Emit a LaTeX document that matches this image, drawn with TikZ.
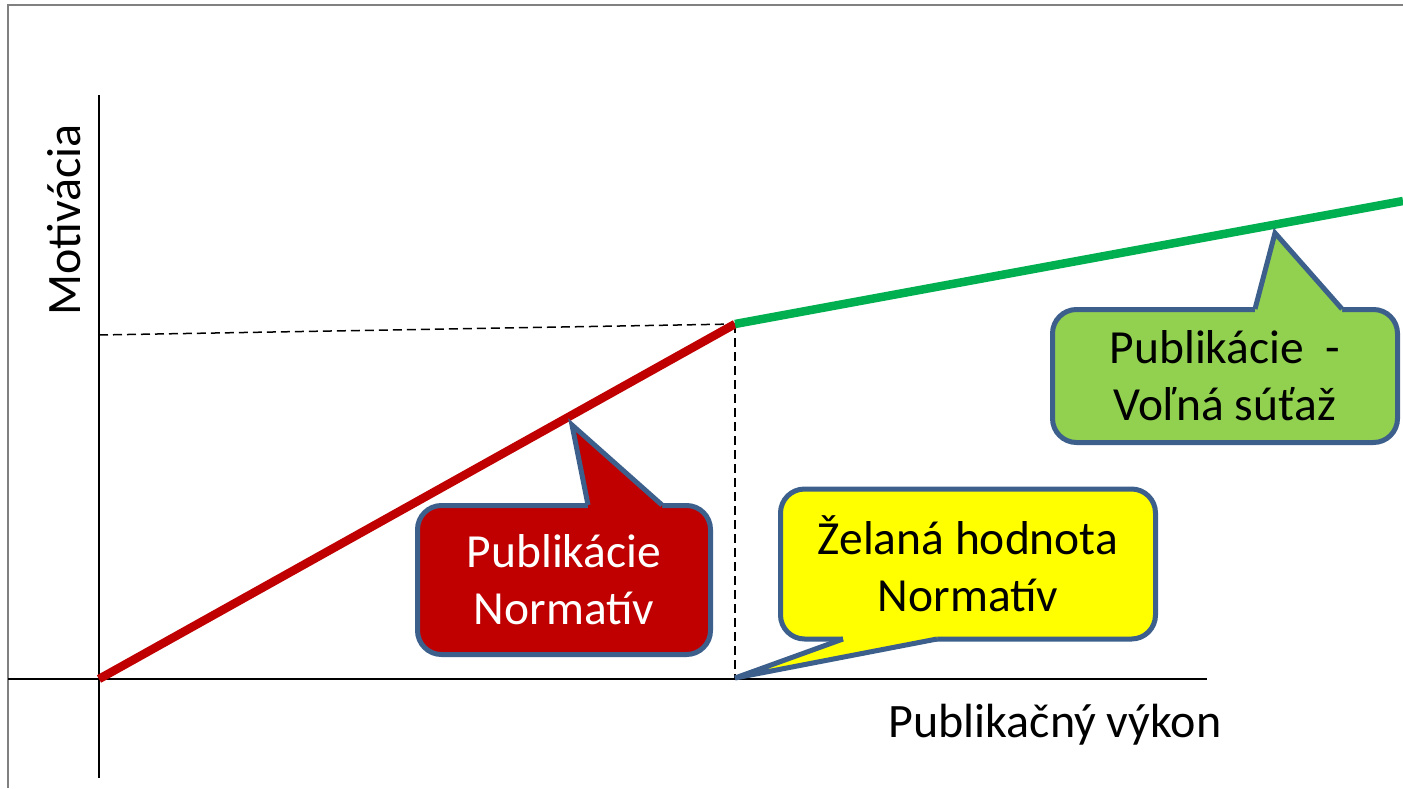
\documentclass[tikz,border=0pt]{standalone}
\usepackage{fontspec}
\setmainfont{Carlito}
\usetikzlibrary{calc}
\definecolor{calloutline}{RGB}{60,95,140}
\definecolor{cred}{RGB}{192,0,0}
\definecolor{cgreen}{RGB}{0,176,80}
\definecolor{cyellow}{RGB}{255,255,0}
\definecolor{clgreen}{RGB}{146,208,80}
\definecolor{framegray}{RGB}{128,128,128}
\tikzset{
  callbox/.style={draw=calloutline, line width=5pt, rounded corners=24pt, inner sep=0pt, align=center, font=\fontsize{47.5}{57}\selectfont},
  pointer/.style={draw=calloutline, line width=5pt},
  axisline/.style={line width=1.8pt, black},
  guide/.style={line width=1.5pt, dash pattern=on 9pt off 5pt},
  thickline/.style={line width=8.5pt},
  axislabel/.style={font=\fontsize{48}{57}\selectfont, inner sep=0pt}
}
\begin{document}
\begin{tikzpicture}[x=1pt,y=-1pt]
\useasboundingbox (0,0) rectangle (1403,788);
% frame
\coordinate (F1) at (8,788);
\coordinate (F2) at (8,5);
\coordinate (F3) at (1403,5);
\draw[framegray, line width=2.2pt] (F1) -- (F2) -- (F3);
% axes
\coordinate (Ytop) at (99,95);
\coordinate (Ybot) at (99,778);
\coordinate (Xleft) at (8,679);
\coordinate (Xright) at (1207,679);
\draw[axisline] (Ytop) -- (Ybot);
\draw[axisline] (Xleft) -- (Xright);
% key points
\coordinate (O) at (99,679);
\coordinate (K) at (735,324);
\coordinate (E) at (1403,201);
\coordinate (Yk) at (99,335);
\coordinate (Xk) at (735,679);
\draw[guide] (Yk) -- (K);
\draw[guide] (K) -- (Xk);
\draw[thickline, cred] (O) -- (K);
\draw[thickline, cgreen] (K) -- (E);
% axis labels
\node[axislabel, rotate=90] (ylab) at (64,220) {Motivácia};
\node[axislabel] (xlab) at (1055,725) {Publikačný výkon};
% red callout
\node[callbox, fill=cred, text=white, minimum width=293pt, minimum height=149pt] (red) at (564,580) {Publikácie\\Normatív};
\coordinate (rt) at (572,425);
\coordinate (ra) at (588,505);
\coordinate (rb) at (662,505);
\fill[cred] (ra) -- (rt) -- (rb) -- ++(0,8) -- ($(ra)+(0,8)$) -- cycle;
\draw[pointer] (ra) -- (rt) -- (rb);
% yellow callout
\node[callbox, fill=cyellow, text=black, minimum width=375pt, minimum height=150pt] (yel) at (968,564) {Želaná hodnota\\Normatív};
\coordinate (yt) at (735,678);
\coordinate (ya) at (843,639);
\coordinate (yb) at (937,639);
\fill[cyellow] (ya) -- (yt) -- (yb) -- ++(0,-8) -- ($(ya)+(0,-8)$) -- cycle;
\draw[pointer] (ya) -- (yt) -- (yb);
% green callout
\node[callbox, fill=clgreen, text=black, minimum width=345pt, minimum height=133pt] (grn) at (1225,376) {Publikácie\ \ -\\Voľná súťaž};
\coordinate (gt) at (1275,233);
\coordinate (ga) at (1255,309);
\coordinate (gb) at (1342,309);
\fill[clgreen] (ga) -- (gt) -- (gb) -- ++(0,8) -- ($(ga)+(0,8)$) -- cycle;
\draw[pointer] (ga) -- (gt) -- (gb);
\end{tikzpicture}
\end{document}
